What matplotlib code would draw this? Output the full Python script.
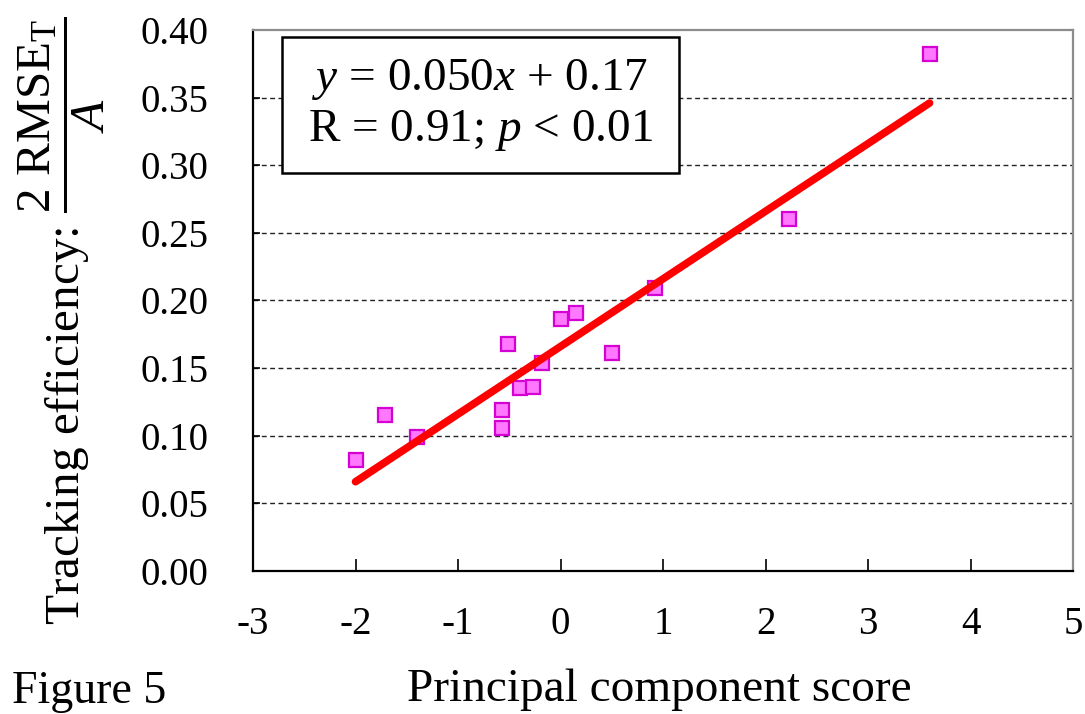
import matplotlib
matplotlib.use("Agg")
import numpy as np
from matplotlib import pyplot as plt
from matplotlib.patches import Rectangle

# Principal component score vs tracking efficiency, one point per subject
pc_score = [-2.00, -1.71, -1.40, -0.57, -0.57, -0.51, -0.40, -0.27, -0.18,
            0.00, 0.15, 0.50, 0.92, 2.23, 3.60]
efficiency = [0.082, 0.115, 0.099, 0.119, 0.106, 0.168, 0.135, 0.136, 0.154,
              0.186, 0.191, 0.161, 0.209, 0.260, 0.382]

# regression line
slope = 0.050
intercept = 0.166
r_value = 0.91

x_ticks = [-3, -2, -1, 0, 1, 2, 3, 4, 5]
y_ticks = [0.00, 0.05, 0.10, 0.15, 0.20, 0.25, 0.30, 0.35, 0.40]

plt.rcParams["font.family"] = ["Liberation Serif", "DejaVu Serif"]
plt.rcParams["mathtext.fontset"] = "custom"
plt.rcParams["mathtext.rm"] = "Liberation Serif"
plt.rcParams["mathtext.it"] = "Liberation Serif:italic"
plt.rcParams["mathtext.bf"] = "Liberation Serif:bold"

fig = plt.figure(figsize=(10.85, 7.14), dpi=100)
ax = fig.add_axes([0.2332, 0.2003, 0.7558, 0.7577])

ax.set_xlim(-3, 5)
ax.set_ylim(0, 0.40)
ax.set_xticks(x_ticks)
ax.set_yticks(y_ticks)
ax.set_xticklabels([str(t) for t in x_ticks])
ax.set_yticklabels([f"{t:.2f}" for t in y_ticks])
ax.tick_params(axis="x", direction="in", length=8.5, width=1.2, pad=25, labelsize=28)
ax.tick_params(axis="y", direction="in", length=5, width=1.2, pad=32, labelsize=28)

# dashed horizontal guides between the frame edges
for yv in y_ticks[1:-1]:
    ax.axhline(yv, color="#222222", lw=1.0, ls=(0, (3.5, 2.5)), zorder=1)

for side in ["left", "bottom"]:
    ax.spines[side].set_color("black")
    ax.spines[side].set_linewidth(1.6)
for side in ["top", "right"]:
    ax.spines[side].set_color("#8c8c8c")
    ax.spines[side].set_linewidth(1.6)

ax.plot(pc_score, efficiency, ls="none", marker="s", markersize=10,
        markerfacecolor="#ff78ff", markeredgecolor="#d400d4", markeredgewidth=1.6,
        zorder=3)

line_x = np.array([min(pc_score), max(pc_score)])
ax.plot(line_x, slope * line_x + intercept, color="#ff0000", lw=5.5,
        solid_capstyle="round", zorder=4)

# equation box
ax.add_patch(Rectangle((0.0354, 0.735), 0.4835, 0.252, transform=ax.transAxes,
                       facecolor="white", edgecolor="black", lw=1.8, zorder=5))
eq_text = (f"$y$ = {slope:.3f}$x$ + {intercept:.2f}\n"
           f"R = {r_value:.2f}; $p$ < 0.01")
ax.text(0.0354 + 0.4835 / 2, 0.735 + 0.252 / 2, eq_text, transform=ax.transAxes,
        ha="center", va="center", fontsize=34, linespacing=1.2, zorder=6)

ax.set_xlabel("Principal component score", fontsize=34)
ax.xaxis.set_label_coords(0.495, -0.18)
ax.set_ylabel(r"Tracking efficiency: $\dfrac{2\ \mathrm{RMSE_T}}{A}$", fontsize=35.5)
ax.yaxis.set_label_coords(-0.178, 0.462)

fig.text(0.011, 0.016, "Figure 5", fontsize=33, ha="left", va="baseline")

fig.savefig("out.png", dpi=100)
